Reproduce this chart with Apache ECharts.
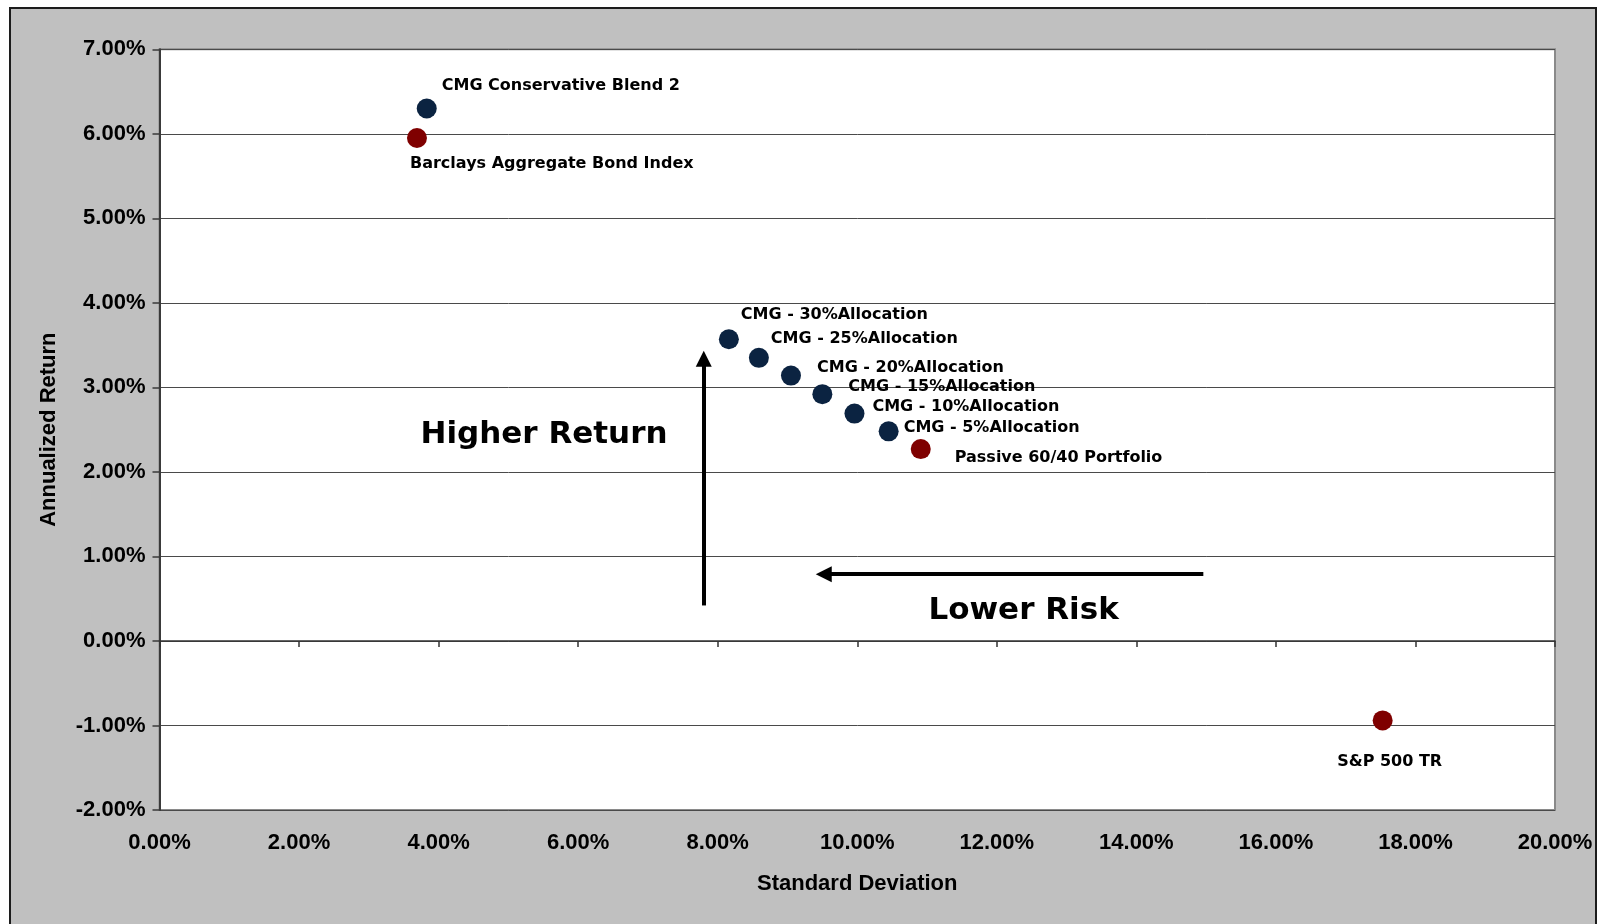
<!DOCTYPE html>
<html>
<head>
<meta charset="utf-8">
<script src="https://cdn.jsdelivr.net/npm/echarts@6/dist/echarts.min.js"></script>
<style>
  html, body { margin: 0; padding: 0; background: #ffffff; width: 1600px; height: 924px; overflow: hidden; }
  #frame { position: absolute; left: 9px; top: 7px; width: 1584px; height: 960px; border: 2px solid #1c1c1c; background: #C0C0C0; }
  #chart { position: absolute; left: 0; top: 0; width: 1600px; height: 924px; }
</style>
</head>
<body>
<div id="frame"></div>
<div id="chart"></div>
<script>
// ---- data ----
const cmgNames = [
  'CMG Conservative Blend 2',
  'CMG - 30%Allocation',
  'CMG - 25%Allocation',
  'CMG - 20%Allocation',
  'CMG - 15%Allocation',
  'CMG - 10%Allocation',
  'CMG - 5%Allocation'
];
const cmgStdDev = [3.83, 8.16, 8.59, 9.05, 9.50, 9.96, 10.45];
const cmgReturn = [6.30, 3.57, 3.35, 3.14, 2.92, 2.69, 2.48];

const benchNames = ['Barclays Aggregate Bond Index', 'Passive 60/40 Portfolio', 'S&P 500 TR'];
const benchStdDev = [3.69, 10.91, 17.53];
const benchReturn = [5.95, 2.27, -0.94];

const annotationText = ['Higher Return', 'Lower Risk'];
const annotationX = [3.74, 11.02];
const annotationY = [2.435, 0.35];

const arrowFrom = [[7.80, 0.42], [14.96, 0.79]];
const arrowTo = [[7.80, 3.34], [9.52, 0.79]];

const xMin = 0, xMax = 20, xStep = 2;
const yMin = -2, yMax = 7, yStep = 1;

// ---- label placement (style only) ----
const labelPlacement = {
  'CMG Conservative Blend 2': { offset: [15, -23], align: 'left' },
  'CMG - 30%Allocation': { offset: [12, -24], align: 'left' },
  'CMG - 25%Allocation': { offset: [12, -19], align: 'left' },
  'CMG - 20%Allocation': { offset: [26, -8], align: 'left' },
  'CMG - 15%Allocation': { offset: [26, -7], align: 'left' },
  'CMG - 10%Allocation': { offset: [18, -7], align: 'left' },
  'CMG - 5%Allocation': { offset: [15, -3], align: 'left' },
  'Barclays Aggregate Bond Index': { offset: [-7, 26], align: 'left' },
  'Passive 60/40 Portfolio': { offset: [34, 9], align: 'left' },
  'S&P 500 TR': { offset: [7, 41], align: 'center' }
};

function buildPoints(names, xs, ys) {
  return names.map((n, i) => {
    const p = labelPlacement[n] || { offset: [12, 0], align: 'left' };
    return {
      name: n,
      value: [xs[i], ys[i]],
      label: { offset: p.offset, align: p.align }
    };
  });
}

const pointLabel = {
  show: true,
  position: 'inside',
  verticalAlign: 'middle',
  formatter: '{b}',
  color: '#000',
  fontFamily: 'DejaVu Sans',
  fontWeight: 'bold',
  fontSize: 16
};

const axisLabelFont = { color: '#000', fontFamily: 'Liberation Sans, Arial', fontWeight: 'bold', fontSize: 22 };

const chart = echarts.init(document.getElementById('chart'));
chart.setOption({
  animation: false,
  backgroundColor: 'transparent',
  grid: {
    left: 159.5, right: 45, top: 49.3, bottom: 114,
    show: true, backgroundColor: '#ffffff', borderColor: '#8a8a8a', borderWidth: 2
  },
  xAxis: [
    {
      type: 'value', min: xMin, max: xMax, interval: xStep,
      axisLine: { show: true, onZero: true, lineStyle: { color: '#333', width: 1.5 } },
      axisTick: { show: true, inside: false, length: 6, lineStyle: { color: '#333', width: 1.5 } },
      axisLabel: { show: false },
      splitLine: { show: false }
    },
    {
      type: 'value', min: xMin, max: xMax, interval: xStep, position: 'bottom',
      axisLine: { show: false, onZero: false },
      axisTick: { show: false },
      axisLabel: Object.assign({ show: true, margin: 22, formatter: v => v.toFixed(2) + '%' }, axisLabelFont),
      splitLine: { show: false },
      name: 'Standard Deviation', nameLocation: 'middle', nameGap: 63,
      nameTextStyle: { color: '#000', fontFamily: 'Liberation Sans, Arial', fontWeight: 'bold', fontSize: 22 }
    }
  ],
  yAxis: {
    type: 'value', min: yMin, max: yMax, interval: yStep,
    axisLine: { show: true, lineStyle: { color: '#3a3a3a', width: 2 } },
    axisTick: { show: true, inside: false, length: 7, lineStyle: { color: '#3a3a3a', width: 1.5 } },
    axisLabel: Object.assign({ show: true, margin: 14, formatter: v => v.toFixed(2) + '%' }, axisLabelFont),
    splitLine: { show: true, lineStyle: { color: '#4a4a4a', width: 1 } },
    name: 'Annualized Return', nameLocation: 'middle', nameGap: 100, nameRotate: 90,
    nameTextStyle: { color: '#000', fontFamily: 'Liberation Sans, Arial', fontWeight: 'bold', fontSize: 22 }
  },
  series: [
    {
      name: 'CMG', type: 'scatter', xAxisIndex: 0, symbol: 'circle', symbolSize: 20,
      itemStyle: { color: '#0B2341', opacity: 1 },
      label: pointLabel,
      data: buildPoints(cmgNames, cmgStdDev, cmgReturn),
      z: 5
    },
    {
      name: 'Benchmarks', type: 'scatter', xAxisIndex: 0, symbol: 'circle', symbolSize: 20,
      itemStyle: { color: '#7F0000', opacity: 1 },
      label: pointLabel,
      data: buildPoints(benchNames, benchStdDev, benchReturn),
      z: 5
    },
    {
      name: 'Annotations', type: 'scatter', xAxisIndex: 0, symbolSize: 0, silent: true,
      itemStyle: { opacity: 1 },
      label: {
        show: true, position: 'inside', align: 'left', verticalAlign: 'middle',
        formatter: '{b}', color: '#000', fontFamily: 'DejaVu Sans', fontWeight: 'bold', fontSize: 31
      },
      data: annotationText.map((t, i) => ({ name: t, value: [annotationX[i], annotationY[i]] })),
      markLine: {
        silent: true,
        symbol: ['none', 'triangle'],
        symbolSize: [16, 16],
        label: { show: false },
        lineStyle: { color: '#000', width: 4, type: 'solid', opacity: 1 },
        data: arrowFrom.map((f, i) => [{ coord: f }, { coord: arrowTo[i] }])
      },
      z: 4
    }
  ]
});
</script>
</body>
</html>
